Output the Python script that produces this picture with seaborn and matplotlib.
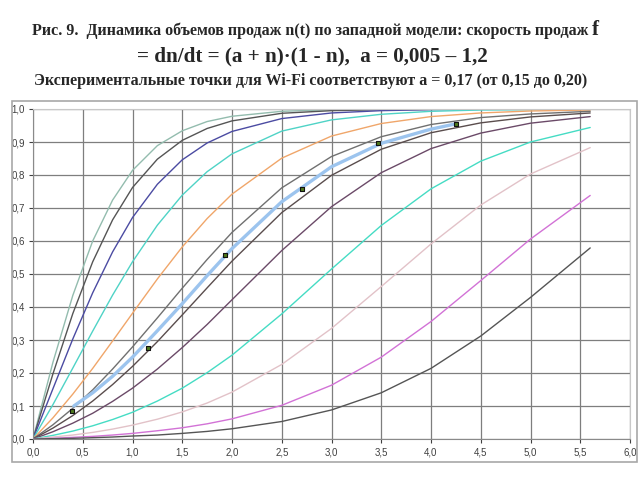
import numpy as np
import pandas as pd
import matplotlib
matplotlib.use("Agg")
import matplotlib.pyplot as plt
from matplotlib.ticker import FuncFormatter, MultipleLocator
from matplotlib.patches import Rectangle
import seaborn as sns

# ---- data ----
t = [0, 0.2, 0.4, 0.6, 0.8, 1.0, 1.25, 1.5, 1.75, 2.0, 2.5, 3.0, 3.5, 4.0, 4.5, 5.0, 5.6]
n_1_2 = [0, 0.232, 0.435, 0.600, 0.724, 0.814, 0.889, 0.934, 0.962, 0.978, 0.993, 0.998, 0.999, 1.0, 1.0, 1.0, 1.0]
n_1_0 = [0, 0.197, 0.380, 0.537, 0.664, 0.762, 0.848, 0.905, 0.941, 0.964, 0.987, 0.995, 0.998, 0.999, 1.0, 1.0, 1.0]
n_0_75 = [0, 0.152, 0.303, 0.443, 0.567, 0.671, 0.772, 0.846, 0.897, 0.932, 0.971, 0.988, 0.995, 0.998, 0.999, 1.0, 1.0]
n_0_5 = [0, 0.104, 0.215, 0.327, 0.436, 0.537, 0.648, 0.739, 0.810, 0.864, 0.933, 0.967, 0.984, 0.993, 0.997, 0.998, 0.999]
n_0_3 = [0, 0.064, 0.136, 0.214, 0.297, 0.381, 0.485, 0.582, 0.668, 0.742, 0.851, 0.918, 0.956, 0.977, 0.988, 0.994, 0.997]
n_0_2 = [0, 0.043, 0.093, 0.149, 0.212, 0.279, 0.367, 0.457, 0.544, 0.626, 0.761, 0.856, 0.916, 0.953, 0.974, 0.985, 0.993]
n_0_15 = [0, 0.033, 0.071, 0.115, 0.165, 0.220, 0.295, 0.376, 0.458, 0.539, 0.686, 0.799, 0.878, 0.928, 0.958, 0.976, 0.988]
n_0_1 = [0, 0.022, 0.048, 0.078, 0.114, 0.154, 0.212, 0.277, 0.347, 0.422, 0.571, 0.704, 0.807, 0.880, 0.927, 0.957, 0.977]
n_0_05 = [0, 0.011, 0.024, 0.040, 0.059, 0.081, 0.115, 0.154, 0.201, 0.254, 0.379, 0.515, 0.647, 0.758, 0.842, 0.900, 0.944]
n_0_025 = [0, 0.006, 0.012, 0.020, 0.030, 0.042, 0.060, 0.082, 0.109, 0.142, 0.226, 0.335, 0.462, 0.591, 0.709, 0.803, 0.883]
n_0_01 = [0, 0.002, 0.005, 0.008, 0.012, 0.017, 0.025, 0.034, 0.046, 0.061, 0.102, 0.163, 0.248, 0.356, 0.480, 0.606, 0.738]
n_0_005 = [0, 0.001, 0.002, 0.004, 0.006, 0.009, 0.012, 0.017, 0.023, 0.031, 0.053, 0.088, 0.140, 0.214, 0.312, 0.429, 0.579]

a_labels = ["1.2", "1.0", "0.75", "0.5", "0.3", "0.2", "0.15", "0.1", "0.05", "0.025", "0.01", "0.005"]
curves = [n_1_2, n_1_0, n_0_75, n_0_5, n_0_3, n_0_2, n_0_15, n_0_1, n_0_05, n_0_025, n_0_01, n_0_005]
colors = ["#93bcae", "#555555", "#4b4ba2", "#4fd3c6", "#f0a66a", "#707070",
          "#5a4d4d", "#6b4a68", "#45dcc4", "#e2c2c8", "#d272d6", "#555555"]

# Wi-Fi fit (a = 0,17) and experimental points
t_fit = [0.41, 0.6, 0.8, 1.0, 1.25, 1.5, 1.75, 2.0, 2.5, 3.0, 3.5, 4.0, 4.25]
n_fit = [0.100, 0.140, 0.190, 0.248, 0.328, 0.410, 0.495, 0.577, 0.719, 0.825, 0.896, 0.939, 0.955]
t_exp = [0.39, 1.16, 1.93, 2.70, 3.47, 4.25]
n_exp = [0.086, 0.277, 0.557, 0.757, 0.897, 0.955]

df = pd.DataFrame({
    "t": np.tile(t, len(curves)),
    "n": np.concatenate(curves),
    "a": np.repeat(a_labels, len(t)),
})

sns.set_style("white")
plt.rcParams["font.family"] = ["Liberation Sans", "DejaVu Sans"]

fig = plt.figure(figsize=(6.4, 4.8), dpi=100)
ax = fig.add_axes([33 / 640, 1 - 439 / 480, (630 - 33) / 640, (439 - 109) / 480])

# outer chart border
fig.patches.append(Rectangle((12 / 640, 1 - 462 / 480), (637 - 12) / 640, (462 - 101) / 480,
                             transform=fig.transFigure, fill=False, edgecolor="#a8a8a8", lw=1.2))

sns.lineplot(data=df, x="t", y="n", hue="a", hue_order=a_labels,
             palette=dict(zip(a_labels, colors)), estimator=None, sort=False,
             legend=False, linewidth=1.0, ax=ax)
sns.lineplot(x=t_fit, y=n_fit, color="#9cc4ee", linewidth=2.4, estimator=None, sort=False, ax=ax)
sns.scatterplot(x=t_exp, y=n_exp, marker="s", s=12, color="#4f7a1e", edgecolor="#111111",
                linewidth=0.8, ax=ax, zorder=5)

ax.set_xlim(0, 6.0)
ax.set_ylim(0, 1.0)
ax.xaxis.set_major_locator(MultipleLocator(0.5))
ax.yaxis.set_major_locator(MultipleLocator(0.1))
fmt = FuncFormatter(lambda v, p: f"{v:.1f}".replace(".", ","))
ax.xaxis.set_major_formatter(fmt)
ax.yaxis.set_major_formatter(fmt)
ax.grid(True, color="#7e7e7e", linewidth=0.9)
ax.set_axisbelow(True)
ax.set_xlabel("")
ax.set_ylabel("")
ax.tick_params(axis="both", which="major", labelsize=7, colors="#404040", length=3,
               direction="out", bottom=True, left=True, pad=3)
for side in ["left", "bottom"]:
    ax.spines[side].set_color("#8a8a8a")
for side in ["top", "right"]:
    ax.spines[side].set_color("#c8c8c8")

serif = ["Liberation Serif", "DejaVu Serif"]
fig.text(32 / 640, 1 - 31 / 480,
         "Рис. 9.  Динамика объемов продаж n(t) по западной модели: скорость продаж",
         ha="left", va="center", fontsize=11.5, fontweight="bold", family=serif)
fig.text(592 / 640, 1 - 30 / 480, "f", ha="left", va="center", fontsize=15,
         fontweight="bold", family=serif)
fig.text(312 / 640, 1 - 56 / 480, "= dn/dt = (a + n)·(1 - n),  a = 0,005 – 1,2",
         ha="center", va="center", fontsize=15.2, fontweight="bold", family=serif)
fig.text(311 / 640, 1 - 81 / 480,
         "Экспериментальные точки для Wi-Fi соответствуют a = 0,17 (от 0,15 до 0,20)",
         ha="center", va="center", fontsize=11.5, fontweight="bold", family=serif)

fig.savefig("out.png", dpi=100)
